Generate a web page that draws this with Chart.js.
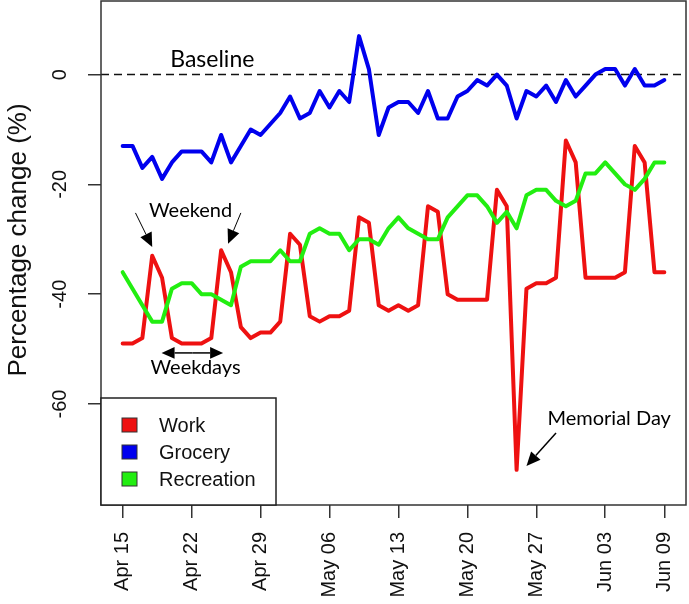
<!DOCTYPE html>
<html>
<head>
<meta charset="utf-8">
<script src="https://cdn.jsdelivr.net/npm/chart.js@4.4.1/dist/chart.umd.min.js"></script>
<style>
  html, body { margin: 0; padding: 0; background: #fff; }
  #wrap { width: 689px; height: 604px; }
</style>
</head>
<body>
<div id="wrap"><canvas id="mobility-chart" width="689" height="604"></canvas></div>
<script>
// daily values, Apr 15 .. Jun 09
const workValues = [
  -49, -49, -48, -33, -37, -48, -49, -49, -49, -48,
  -32, -36, -46, -48, -47, -47, -45, -29, -31, -44,
  -45, -44, -44, -43, -26, -27, -42, -43, -42, -43,
  -42, -24, -25, -40, -41, -41, -41, -41, -21, -24,
  -72, -39, -38, -38, -37, -12, -16, -37, -37, -37,
  -37, -36, -13, -16, -36, -36
];
const groceryValues = [
  -13, -13, -17, -15, -19, -16, -14, -14, -14, -16,
  -11, -16, -13, -10, -11, -9, -7, -4, -8, -7,
  -3, -6, -3, -5, 7, 1, -11, -6, -5, -5,
  -7, -3, -8, -8, -4, -3, -1, -2, 0, -2,
  -8, -3, -4, -2, -5, -1, -4, -2, 0, 1,
  1, -2, 1, -2, -2, -1
];
const recreationValues = [
  -36, -39, -42, -45, -45, -39, -38, -38, -40, -40,
  -41, -42, -35, -34, -34, -34, -32, -34, -34, -29,
  -28, -29, -29, -32, -30, -30, -31, -28, -26, -28,
  -29, -30, -30, -26, -24, -22, -22, -24, -27, -25,
  -28, -22, -21, -21, -23, -24, -23, -18, -18, -16,
  -18, -20, -21, -19, -16, -16
];
const seriesNames = ['Work', 'Grocery', 'Recreation'];
const seriesColors = ['#ee1111', '#0000ee', '#22ee11'];
const tickDays = [0, 7, 14, 21, 28, 35, 42, 49, 55];
const tickLabels = ['Apr 15', 'Apr 22', 'Apr 29', 'May 06', 'May 13', 'May 20', 'May 27', 'Jun 03', 'Jun 09'];
const yTicks = [-60, -40, -20, 0];

const toPoints = vals => vals.map((v, i) => ({ x: i, y: v }));

const axisFont = '"Liberation Sans", Arial, sans-serif';
const noteFont = 'Lato, "Open Sans", sans-serif';

function arrow(ctx, x1, y1, x2, y2, head) {
  const ang = Math.atan2(y2 - y1, x2 - x1);
  const bx = x2 - head * Math.cos(ang), by = y2 - head * Math.sin(ang);
  const w = head * 0.45;
  ctx.beginPath(); ctx.moveTo(x1, y1); ctx.lineTo(bx, by); ctx.stroke();
  ctx.beginPath();
  ctx.moveTo(x2, y2);
  ctx.lineTo(bx + w * Math.sin(ang), by - w * Math.cos(ang));
  ctx.lineTo(bx - w * Math.sin(ang), by + w * Math.cos(ang));
  ctx.closePath(); ctx.fill();
}

const decorations = {
  id: 'decorations',
  beforeDatasetsDraw(chart) {
    const { ctx, chartArea: a, scales: { y } } = chart;
    const y0 = y.getPixelForValue(0);
    ctx.save();
    ctx.strokeStyle = '#111';
    ctx.lineWidth = 1.5;
    ctx.setLineDash([8, 5]);
    ctx.beginPath(); ctx.moveTo(a.left, y0); ctx.lineTo(a.right, y0); ctx.stroke();
    ctx.restore();
  },
  afterDraw(chart) {
    const { ctx, chartArea: a, scales: { x, y } } = chart;
    const px = v => x.getPixelForValue(v);
    const py = v => y.getPixelForValue(v);
    ctx.save();

    // plot box
    ctx.strokeStyle = '#333';
    ctx.lineWidth = 1.5;
    ctx.strokeRect(a.left, a.top, a.right - a.left, a.bottom - a.top);

    // y tick labels, rotated like R's default
    ctx.fillStyle = '#111';
    ctx.font = '20px ' + axisFont;
    ctx.textAlign = 'center';
    ctx.textBaseline = 'middle';
    yTicks.forEach(v => {
      ctx.save();
      ctx.translate(60, py(v));
      ctx.rotate(-Math.PI / 2);
      ctx.fillText(String(v), 0, 0);
      ctx.restore();
    });

    // y title
    ctx.save();
    ctx.font = '26px ' + axisFont;
    ctx.translate(19, 240);
    ctx.rotate(-Math.PI / 2);
    ctx.fillText('Percentage change (%)', 0, 0);
    ctx.restore();

    // notes
    ctx.fillStyle = '#000';
    ctx.strokeStyle = '#000';
    ctx.font = '23px ' + noteFont;
    ctx.fillText('Baseline', px(9.1), py(2.7));

    ctx.font = '20px ' + noteFont;
    ctx.fillText('Weekend', px(6.9), py(-24.8));
    ctx.lineWidth = 1;
    arrow(ctx, px(1.3), py(-25.2), px(3.0), py(-31.4), 14);
    arrow(ctx, px(12.0), py(-25.2), px(10.7), py(-30.8), 14);

    ctx.lineWidth = 1.5;
    const wy = py(-50.7);
    const wMid = (px(3.95) + px(10.2)) / 2;
    arrow(ctx, wMid, wy, px(3.95), wy, 13);
    arrow(ctx, wMid, wy, px(10.2), wy, 13);
    ctx.fillText('Weekdays', px(7.4), py(-53.3));

    ctx.fillText('Memorial Day', px(49.4), py(-62.6));
    arrow(ctx, px(44.0), py(-65.3), px(41.0), py(-71.3), 14);

    // legend box in lower-left corner
    const lw = 175, lh = 107;
    ctx.fillStyle = '#fff';
    ctx.fillRect(a.left, a.bottom - lh, lw, lh);
    ctx.strokeStyle = '#222';
    ctx.lineWidth = 1.5;
    ctx.strokeRect(a.left, a.bottom - lh, lw, lh);
    ctx.font = '20px ' + axisFont;
    ctx.textAlign = 'left';
    seriesNames.forEach((name, i) => {
      const cy = a.bottom - lh + 27 + i * 27;
      ctx.fillStyle = seriesColors[i];
      ctx.fillRect(a.left + 21, cy - 7, 15, 14);
      ctx.strokeStyle = '#333';
      ctx.lineWidth = 1;
      ctx.strokeRect(a.left + 21, cy - 7, 15, 14);
      ctx.fillStyle = '#111';
      ctx.fillText(name, a.left + 58, cy + 1);
    });
    ctx.restore();
  }
};

const datasets = [workValues, groceryValues, recreationValues].map((vals, i) => ({
  label: seriesNames[i],
  data: toPoints(vals),
  borderColor: seriesColors[i],
  borderWidth: 4,
  pointRadius: 0,
  tension: 0,
  borderJoinStyle: 'round',
  borderCapStyle: 'round',
  fill: false,
  order: 3 - i
}));

new Chart(document.getElementById('mobility-chart').getContext('2d'), {
  type: 'line',
  data: { datasets },
  options: {
    responsive: false,
    animation: false,
    devicePixelRatio: 1,
    layout: { padding: { top: 1, right: 3, left: 0, bottom: 0 } },
    plugins: { legend: { display: false }, tooltip: { enabled: false } },
    scales: {
      x: {
        type: 'linear',
        min: -2.2,
        max: 57.2,
        afterBuildTicks: scale => { scale.ticks = tickDays.map(v => ({ value: v })); },
        afterFit: scale => { scale.height = 99; scale.paddingLeft = 0; scale.paddingRight = 0; },
        grid: { drawOnChartArea: false, drawTicks: true, tickLength: 13, color: '#333', lineWidth: 1.5 },
        border: { display: false },
        ticks: {
          autoSkip: false,
          minRotation: 90,
          maxRotation: 90,
          padding: 14,
          color: '#111',
          font: { family: axisFont, size: 20 },
          callback: (v, idx) => tickLabels[idx]
        }
      },
      y: {
        min: -78.4,
        max: 13.4,
        afterBuildTicks: scale => { scale.ticks = yTicks.map(v => ({ value: v })); },
        afterFit: scale => { scale.width = 101; scale.paddingTop = 0; scale.paddingBottom = 0; },
        grid: { drawOnChartArea: false, drawTicks: true, tickLength: 13, color: '#333', lineWidth: 1.5 },
        border: { display: false },
        ticks: { display: false }
      }
    }
  },
  plugins: [decorations]
});
</script>
</body>
</html>
